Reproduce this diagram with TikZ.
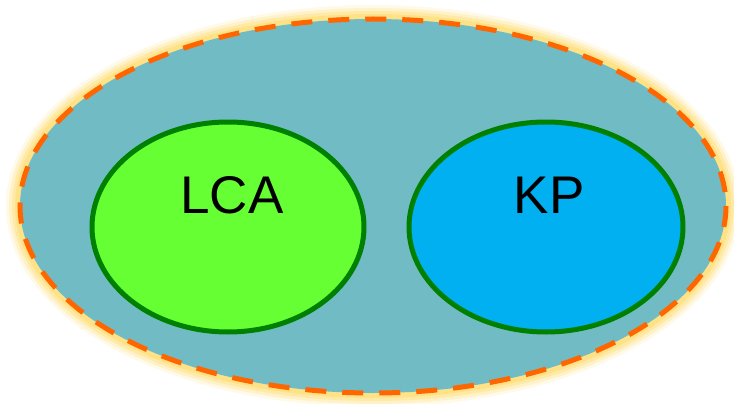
\documentclass[tikz,border=0pt]{standalone}
\usepackage{fontspec}
\setmainfont{Liberation Sans}
\usepackage{tikz}
\usetikzlibrary{shapes.geometric}

\definecolor{setblue}{HTML}{71BCC4}
\definecolor{lcagreen}{HTML}{66FF33}
\definecolor{kpblue}{HTML}{00B0F0}
\definecolor{rimgreen}{HTML}{008000}
\definecolor{dashorange}{HTML}{FF6600}
\definecolor{glowyellow}{HTML}{FFD966}

\begin{document}
\begin{tikzpicture}[x=1pt, y=-1pt,
        subset/.style={ellipse, draw=rimgreen, line width=5pt, inner sep=0pt,
            minimum width=272pt, minimum height=210pt},
        setlabel/.style={font=\fontsize{53}{60}\selectfont, inner sep=0pt}]
        \useasboundingbox (0, 0) rectangle (734, 404);
        % soft glow round the big set
        \foreach \w/\o in {28/0.15, 22/0.25, 16/0.35, 10/0.5}
            \draw[glowyellow, line width=\w pt, opacity=\o] (373, 206) ellipse [x radius=353, y radius=187];
        \fill[setblue] (373, 206) ellipse [x radius=353, y radius=187];
        \draw[dashorange, line width=5pt, dash pattern=on 21pt off 16pt] (373, 206) ellipse [x radius=353, y radius=187];
        \node[subset, fill=lcagreen] (lcaset) at (228, 227) {};
        \node[subset, fill=kpblue, minimum width=274pt] (kpset) at (546, 227) {};
        \node[setlabel] (lca) at (232, 195) {LCA};
        \node[setlabel] (kp) at (549, 195) {KP};
    \end{tikzpicture}
\end{document}
